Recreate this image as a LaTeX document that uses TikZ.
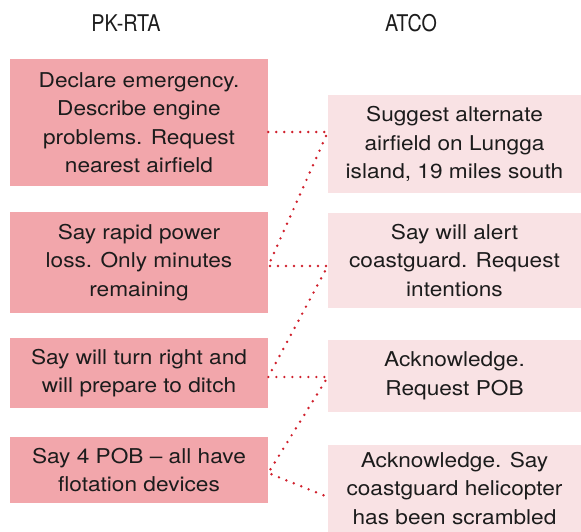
\documentclass[tikz,border=0pt]{standalone}
\usepackage{fontspec}
\setmainfont[FakeStretch=1.11]{TeX Gyre Heros}
\newfontfamily\headfont[FakeStretch=0.86]{TeX Gyre Heros}
\definecolor{pilotbox}{HTML}{F2A6AB}
\definecolor{atcbox}{HTML}{F9E2E4}
\definecolor{dotred}{HTML}{D0202C}
\definecolor{ink}{HTML}{1C1C1C}
\tikzset{
  msg/.style={rectangle, inner sep=0pt, align=center, text=ink,
    font=\fontsize{20.4}{28.5}\selectfont},
  pilot/.style={msg, fill=pilotbox, minimum width=258pt},
  atc/.style={msg, fill=atcbox, minimum width=253pt},
  head/.style={text=ink, font=\headfont\fontsize{23}{26}\selectfont},
  link/.style={draw=dotred, line width=2.7pt, line cap=round,
    dash pattern=on 0pt off 8pt}
}
\begin{document}
\begin{tikzpicture}[x=1pt,y=-1pt]
\useasboundingbox (0,0) rectangle (581,532);

% column headings
\node[head] (hp) at (126,23) {PK-RTA};
\node[head] (ha) at (411,23) {ATCO};

% aircraft messages
\node[pilot, minimum height=127pt] (L1) at (139,122.5)
  {Declare emergency.\\Describe engine\\problems. Request\\nearest airfield};
\node[pilot, minimum height=101pt] (L2) at (139,262.5)
  {Say rapid power\\loss. Only minutes\\remaining};
\node[pilot, minimum height=70pt] (L3) at (139,373)
  {Say will turn right and\\will prepare to ditch};
\node[pilot, minimum height=66pt] (L4) at (139,470)
  {Say 4 POB -- all have\\flotation devices};

% controller replies
\node[atc, minimum height=98pt] (R1) at (454.5,144)
  {Suggest alternate\\airfield on Lungga\\island, 19 miles south};
\node[atc, minimum height=95pt] (R2) at (454.5,260.5)
  {Say will alert\\coastguard. Request\\intentions};
\node[atc, minimum height=72pt] (R3) at (454.5,376)
  {Acknowledge.\\Request POB};
\node[atc, minimum height=87pt] (R4) at (454.5,488.5)
  {Acknowledge. Say\\coastguard helicopter\\has been scrambled};

% attachment points of the dotted links
\coordinate (l1) at ([yshift=-9.5pt]L1.east);
\coordinate (r1) at ([yshift=12pt]R1.west);
\coordinate (l2) at ([yshift=-3.5pt]L2.east);
\coordinate (r2) at ([yshift=-5.5pt]R2.west);
\coordinate (l3) at ([yshift=-4pt]L3.east);
\coordinate (r3) at ([yshift=-1pt]R3.west);
\coordinate (l4) at ([yshift=-3pt]L4.east);
\coordinate (r4) at ([yshift=-8.5pt]R4.west);

% exchange sequence
\draw[link] (l1) -- (r1) -- (l2) -- (r2) -- (l3) -- (r3) -- (l4) -- (r4);
\end{tikzpicture}
\end{document}
